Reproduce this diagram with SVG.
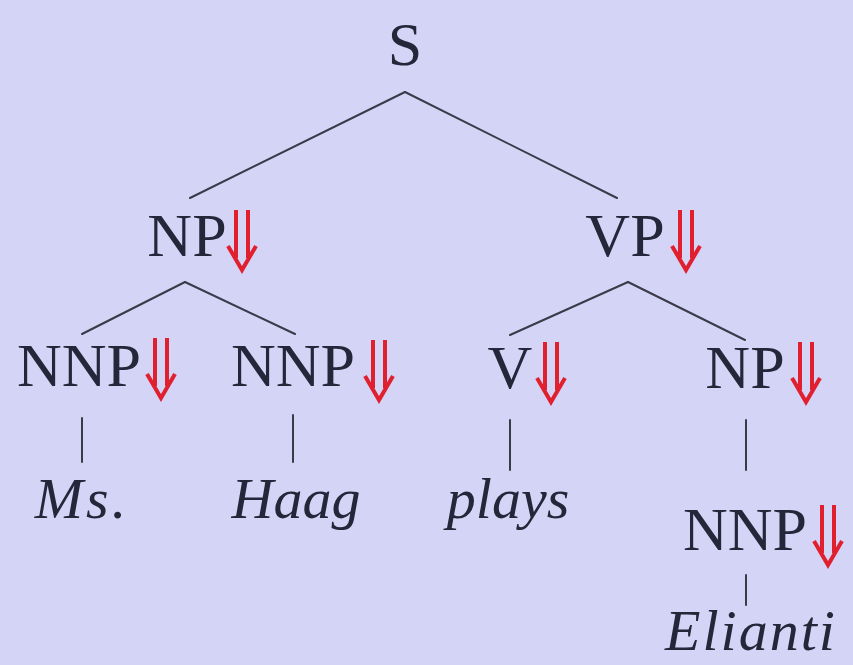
<svg xmlns="http://www.w3.org/2000/svg" width="853" height="665" viewBox="0 0 853 665">
  <defs>
    <!-- red double down arrow, tip at (0,0) -->
    <g id="dbl">
      <path d="M-6,-60 V-12 M6,-60 V-12" />
      <path d="M-14,-24 L0,0 L14,-24" />
    </g>
  </defs>
  <style>
    .bg { fill: #d4d4f7; }
    .lbl { font-family: "Liberation Serif", "DejaVu Serif", serif; font-size: 62px; fill: #26263a; text-anchor: middle; }
    .word { font-family: "Liberation Serif", "DejaVu Serif", serif; font-style: italic; font-size: 58px; fill: #26263a; text-anchor: middle; }
    .edge { stroke: #3a3a48; stroke-width: 2; fill: none; stroke-linecap: round; }
    .arr { stroke: #e0202e; stroke-width: 4; fill: none; stroke-linejoin: miter; }
  </style>
  <rect class="bg" x="0" y="0" width="853" height="665" />

  <g id="connectors" class="edge">
    <path d="M405,92 L190,198" />
    <path d="M405,92 L617,198" />
    <path d="M185,282 L82,334" />
    <path d="M185,282 L295,334" />
    <path d="M628,282 L510,335" />
    <path d="M628,282 L745,340" />
    <path d="M82,418 V462" />
    <path d="M293,415 V462" />
    <path d="M510,420 V470" />
    <path d="M746,420 V470" />
    <path d="M746,575 V605" />
  </g>

  <g id="S"><text class="lbl" x="405" y="65">S</text></g>

  <g id="NP">
    <text class="lbl" x="187" y="256">NP</text>
    <use href="#dbl" class="arr" x="242" y="270" />
  </g>
  <g id="VP">
    <text class="lbl" x="625" y="256">VP</text>
    <use href="#dbl" class="arr" x="686" y="270" />
  </g>

  <g id="NNP1">
    <text class="lbl" x="79" y="386">NNP</text>
    <use href="#dbl" class="arr" x="161" y="398" />
  </g>
  <g id="NNP2">
    <text class="lbl" x="293" y="386">NNP</text>
    <use href="#dbl" class="arr" x="379" y="400" />
  </g>
  <g id="V">
    <text class="lbl" x="510" y="388">V</text>
    <use href="#dbl" class="arr" x="551" y="402" />
  </g>
  <g id="NP2">
    <text class="lbl" x="745" y="388">NP</text>
    <use href="#dbl" class="arr" x="806" y="402" />
  </g>
  <g id="NNP3">
    <text class="lbl" x="745" y="550">NNP</text>
    <use href="#dbl" class="arr" x="828" y="565" />
  </g>

  <g id="Ms"><text class="word" x="82" y="518" letter-spacing="3">Ms.</text></g>
  <g id="Haag"><text class="word" x="296" y="518">Haag</text></g>
  <g id="plays"><text class="word" x="508" y="518">plays</text></g>
  <g id="Elianti"><text class="word" x="751" y="650" letter-spacing="2">Elianti</text></g>
</svg>
